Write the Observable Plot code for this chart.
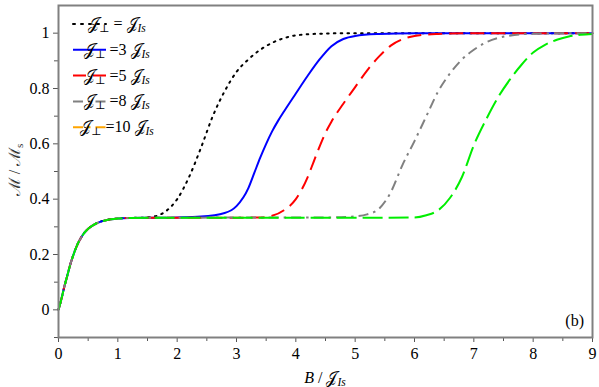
<!DOCTYPE html>
<html><head><meta charset="utf-8">
<script src="https://cdn.jsdelivr.net/npm/d3@7"></script>
<script src="https://cdn.jsdelivr.net/npm/@observablehq/plot@0.6"></script>
<style>body{margin:0;background:#fff} svg{display:block} svg text{font-family: "Liberation Serif", "Times New Roman", "DejaVu Serif", serif;}</style>
</head><body><div id="chart"></div>
<script>
// common low-field part (all curves coincide)
const lowB = [0, 0.05, 0.1, 0.15, 0.2, 0.25, 0.3, 0.4, 0.5, 0.6, 0.7, 0.8, 1.0, 1.2];
const lowM = [0, 0.04, 0.085, 0.125, 0.165, 0.198, 0.227, 0.268, 0.293, 0.308, 0.318, 0.324, 0.330, 0.332];

// J⊥ = J_Is
const b1 = [1.4, 1.6, 1.8, 2.0, 2.2, 2.4, 2.6, 2.8, 3.0, 3.2, 3.4, 3.6, 3.8, 4.0, 4.4, 5.0, 9.0];
const m1 = [0.333, 0.337, 0.355, 0.40, 0.48, 0.585, 0.70, 0.79, 0.86, 0.905, 0.94, 0.965, 0.982, 0.992, 0.998, 1.0, 1.0];
// J⊥ = 3 J_Is
const b3 = [1.6, 2.0, 2.4, 2.8, 3.0, 3.2, 3.3, 3.4, 3.5, 3.6, 3.7, 3.8, 4.0, 4.2, 4.4, 4.6, 4.8, 5.0, 5.4, 6.0, 9.0];
const m3 = [0.333, 0.334, 0.337, 0.35, 0.375, 0.44, 0.495, 0.55, 0.60, 0.645, 0.683, 0.717, 0.782, 0.846, 0.905, 0.953, 0.979, 0.99, 0.997, 1.0, 1.0];
// J⊥ = 5 J_Is
const b5 = [2.0, 3.0, 3.4, 3.6, 3.8, 4.0, 4.1, 4.2, 4.3, 4.4, 4.5, 4.6, 4.8, 5.0, 5.2, 5.4, 5.6, 5.8, 6.0, 6.4, 7.0, 9.0];
const m5 = [0.333, 0.333, 0.334, 0.34, 0.36, 0.40, 0.435, 0.48, 0.535, 0.59, 0.64, 0.68, 0.745, 0.805, 0.865, 0.915, 0.955, 0.978, 0.99, 0.997, 1.0, 1.0];
// J⊥ = 8 J_Is
const b8 = [2.0, 4.6, 5.0, 5.2, 5.4, 5.6, 5.8, 6.0, 6.2, 6.4, 6.6, 6.8, 7.0, 7.2, 7.4, 7.6, 7.8, 8.2, 9.0];
const m8 = [0.333, 0.334, 0.338, 0.345, 0.365, 0.425, 0.525, 0.61, 0.70, 0.79, 0.855, 0.905, 0.94, 0.966, 0.982, 0.991, 0.996, 0.999, 1.0];
// J⊥ = 10 J_Is
const b10 = [2.0, 5.5, 6.0, 6.2, 6.4, 6.6, 6.8, 7.0, 7.2, 7.4, 7.6, 7.8, 8.0, 8.2, 8.4, 8.6, 8.8, 9.0];
const m10 = [0.333, 0.333, 0.334, 0.342, 0.36, 0.405, 0.48, 0.595, 0.685, 0.765, 0.83, 0.885, 0.93, 0.958, 0.976, 0.988, 0.994, 0.997];

const seriesKeys = ["1", "3", "5", "8", "10"];
const seriesB = [b1, b3, b5, b8, b10];
const seriesM = [m1, m3, m5, m8, m10];
const lineColors = ["#000000", "#0000ff", "#ff0000", "#808080", "#00ee00"];
const lineDash = ["1.6,5.2", null, "14,7", "10,5,2.5,5", "20,6"];
const legendCoef = ["", "3", "5", "8", "10"];
const legendColors = ["#000000", "#0000ff", "#ff0000", "#808080", "#ffa500"];
const legendDash = ["2,6", null, "13,7", "10,5,2.5,5", "10,5,2.5,5"];

const xTicks = [0, 1, 2, 3, 4, 5, 6, 7, 8, 9];
const xMinor = [0.5, 1.5, 2.5, 3.5, 4.5, 5.5, 6.5, 7.5, 8.5];
const yTicks = [0, 0.2, 0.4, 0.6, 0.8, 1];
const yMinor = [-0.1, 0.1, 0.3, 0.5, 0.7, 0.9];

const W = 599, H = 387, mL = 58, mR = 7, mT = 5, mB = 50;
const ff = "Liberation Serif, Times New Roman, DejaVu Serif, serif";

const lineMarks = seriesKeys.map((k, i) => {
  const B = lowB.concat(seriesB[i]);
  const M = lowM.concat(seriesM[i]);
  const data = B.map((b, j) => ({B: b, M: M[j]}));
  return Plot.line(data, {x: "B", y: "M", curve: "monotone-x", stroke: lineColors[i],
    strokeWidth: 2, strokeDasharray: lineDash[i] || undefined, strokeLinecap: i === 0 ? "round" : "butt"});
});

const plot = Plot.plot({
  width: W, height: H, marginLeft: mL, marginRight: mR, marginTop: mT, marginBottom: mB,
  style: {fontFamily: ff, fontSize: "16px", background: "#fff", color: "#000"},
  x: {domain: [0, 9]},
  y: {domain: [-0.1, 1.1]},
  marks: [
    Plot.axisX({ticks: xMinor, tickSize: 4, text: null, label: null, stroke: "#555"}),
    Plot.axisX({ticks: xTicks, tickSize: 5, tickPadding: 5, label: null, stroke: "#555", tickFormat: d => String(d)}),
    Plot.axisY({ticks: yMinor, tickSize: 4, text: null, label: null, stroke: "#555"}),
    Plot.axisY({ticks: yTicks, tickSize: 5, tickPadding: 4, label: null, stroke: "#555", tickFormat: d => String(d)}),
    ...lineMarks,
    Plot.frame({stroke: "#808080", strokeWidth: 2})
  ]
});
document.getElementById("chart").appendChild(plot);

const svg = d3.select(plot);
const J = "\u{1D4A5}";

function jIs(sel, size) {
  sel.append("tspan").text(J);
  sel.append("tspan").attr("font-style", "italic").attr("font-size", size * 0.72).attr("dy", 3).text("Is");
  sel.append("tspan").attr("dy", -3).text("");
}

// legend
const g = svg.append("g").attr("font-family", ff).attr("font-size", 16);
legendCoef.forEach((c, i) => {
  const y = 24 + i * 25.8;
  g.append("line").attr("x1", mL + 15).attr("x2", mL + 48).attr("y1", y).attr("y2", y)
    .attr("stroke", legendColors[i]).attr("stroke-width", 2)
    .attr("stroke-linecap", i === 0 ? "round" : "butt")
    .attr("stroke-dasharray", legendDash[i]);
  const t = g.append("text").attr("x", mL + 59).attr("y", y + 5);
  t.append("tspan").text(J);
  t.append("tspan").attr("font-size", 11).attr("dy", 3).text("\u22A5");
  t.append("tspan").attr("dy", -3).text(c === "" ? " = " : " =" + c + " ");
  jIs(t, 16);
});

// (b)
svg.append("text").attr("x", W - mR - 8).attr("y", 326).attr("text-anchor", "end")
  .attr("font-family", ff).attr("font-size", 16).text("(b)");

// x label
const xl = svg.append("text").attr("x", 325).attr("y", 383).attr("text-anchor", "middle")
  .attr("font-family", ff).attr("font-size", 16);
xl.append("tspan").attr("font-style", "italic").text("B");
xl.append("tspan").text(" / ");
jIs(xl, 16);

// y label
const yl = svg.append("text").attr("transform", "translate(20,170) rotate(-90)").attr("text-anchor", "middle")
  .attr("font-family", ff).attr("font-size", 16).attr("fill", "#333");
yl.append("tspan").text("\u2133 / \u2133");
yl.append("tspan").attr("font-size", 11).attr("dy", 3).text("s");
</script></body></html>
